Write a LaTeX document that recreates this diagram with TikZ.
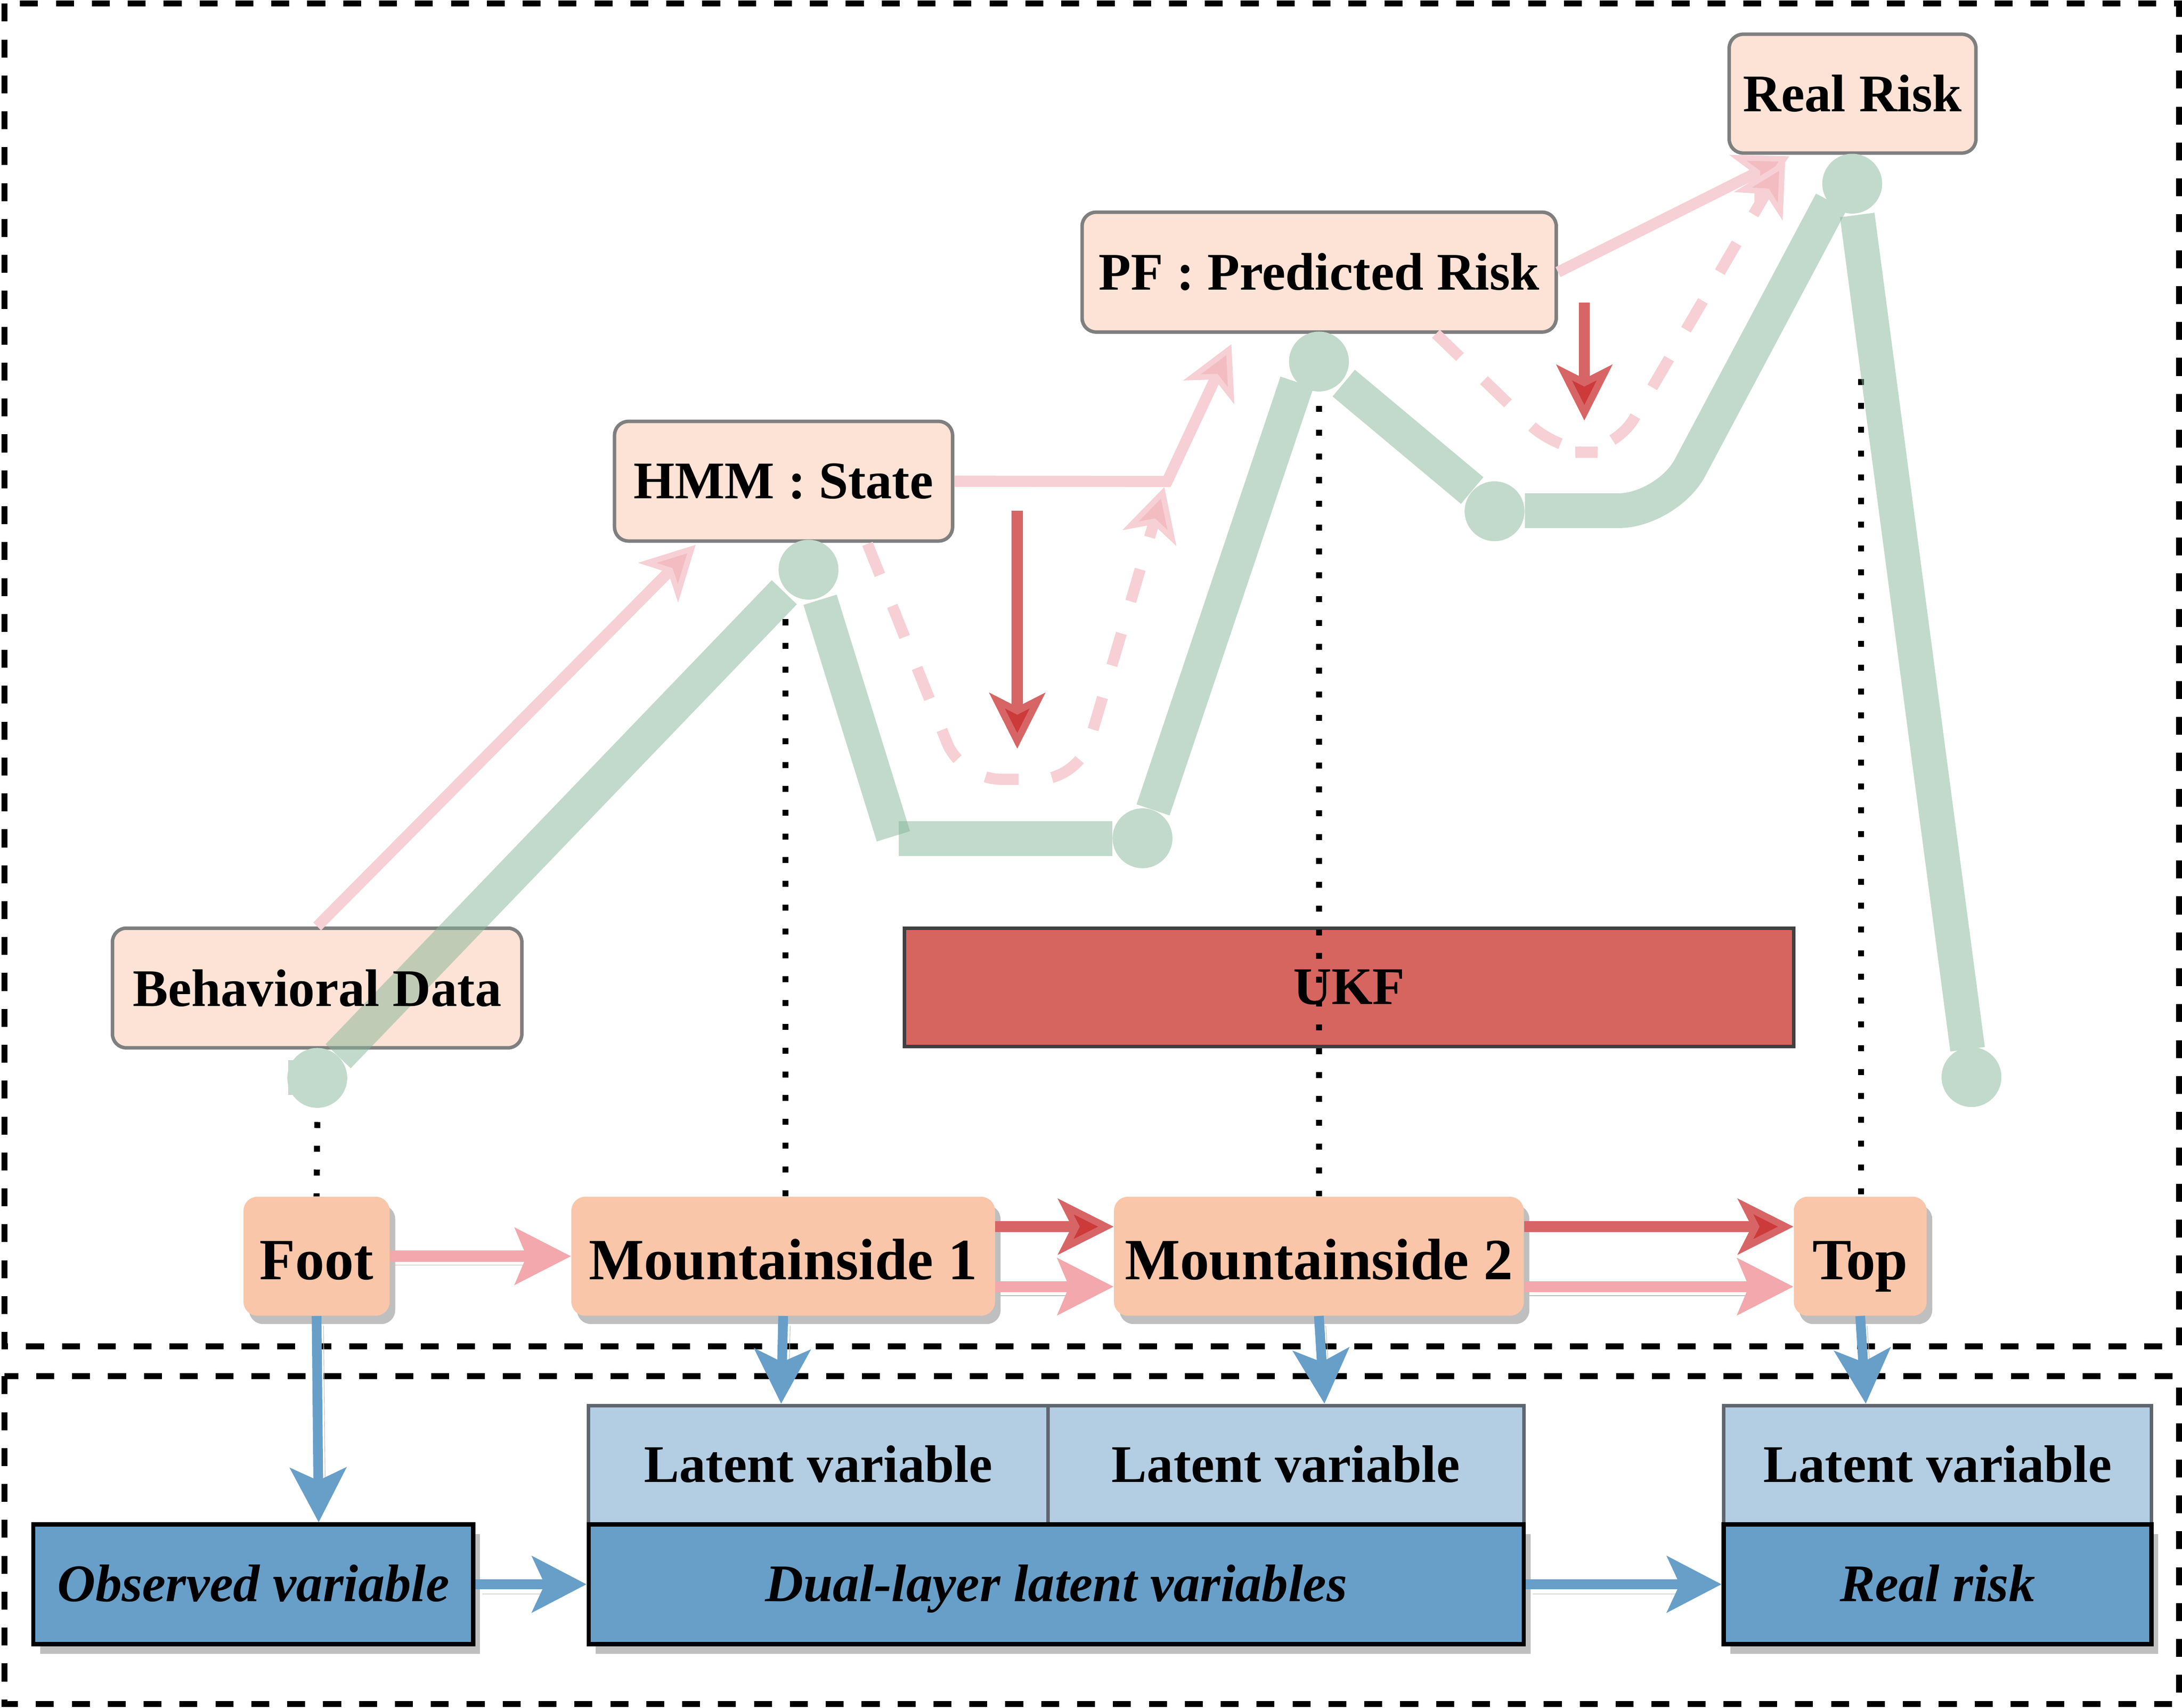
\documentclass[tikz,border=0pt]{standalone}
\usepackage{fontspec}
\setmainfont{Liberation Serif}
\usetikzlibrary{arrows.meta,shadows,calc}
\definecolor{peachlt}{HTML}{FCE3D5}
\definecolor{peach}{HTML}{F9C6A9}
\definecolor{boxgray}{HTML}{7F7F7F}
\definecolor{ltblue}{HTML}{B3CDE2}
\definecolor{latborder}{HTML}{5F6670}
\definecolor{myblue}{HTML}{679FC9}
\definecolor{mtgreen}{HTML}{C2DACB}
\definecolor{mtbase}{HTML}{85B597}
\definecolor{pinklt}{HTML}{F6D0D4}
\definecolor{pinkhead}{HTML}{F2BCC1}
\definecolor{pinkmid}{HTML}{F2A8AD}
\definecolor{redarr}{HTML}{D76566}
\definecolor{reddark}{HTML}{CC3A3A}
\definecolor{ukfred}{HTML}{D6645F}
\definecolor{ukfborder}{HTML}{404040}
\definecolor{shadowgray}{HTML}{BFBFBF}
\tikzset{
  lblfont/.style={font=\fontsize{38}{44}\selectfont\bfseries},
  toplbl/.style={draw=boxgray, line width=2.5pt, fill=peachlt, rounded corners=10pt, inner sep=0pt, lblfont},
  stepnode/.style={fill=peach, rounded corners=10pt, inner sep=0pt, font=\fontsize{42}{48}\selectfont\bfseries,
    text height=33.5pt, text depth=0pt,
    drop shadow={shadow xshift=4pt, shadow yshift=-6pt, fill=shadowgray, opacity=1}},
  latbox/.style={draw=latborder, line width=2.5pt, fill=ltblue, inner sep=0pt, lblfont, text height=24.5pt, text depth=0pt},
  varbox/.style={draw=black, line width=3pt, fill=myblue, inner sep=0pt, font=\fontsize{38}{44}\selectfont\bfseries\itshape,
    text height=24.5pt, text depth=0pt,
    drop shadow={shadow xshift=5pt, shadow yshift=-7pt, fill=shadowgray, opacity=1}},
  ukfbox/.style={draw=ukfborder, line width=2.5pt, fill=ukfred, inner sep=0pt, lblfont},
  outerbox/.style={draw=black, line width=4.3pt, dash pattern=on 12.9pt off 12.9pt},
  dotline/.style={draw=black, line width=4.3pt, dash pattern=on 4.3pt off 12.8pt},
  band/.style={draw=mtbase, draw opacity=0.5, line width=25pt, line cap=butt},
  mtdot/.style={circle, fill=mtgreen, minimum size=43pt, inner sep=0pt},
  pinkarr/.style={draw=pinklt, line width=8pt, -{Stealth[length=38pt,width=40pt,inset=10pt,line width=4pt,fill=pinkhead]}},
  pinkdash/.style={pinkarr, dash pattern=on 24pt off 24pt, rounded corners=28pt},
  redarrow/.style={draw=redarr, line width=8pt, -{Stealth[length=40pt,width=40pt,inset=10pt,line width=5pt,fill=reddark]}},
  pinkbot/.style={draw=pinkmid, line width=8pt, -{Stealth[length=40pt,width=40pt,inset=8pt]},
    preaction={draw=shadowgray, -, shorten >=34pt, transform canvas={shift={(0pt,-6.5pt)}}}},
  bluearr/.style={draw=myblue, line width=7pt, -{Stealth[length=39pt,width=40pt,inset=9pt]},
    preaction={draw=shadowgray, -, shorten >=36pt, transform canvas={shift={(5pt,-7pt)}}}}
}
\begin{document}
\begin{tikzpicture}[x=1pt,y=-1pt]
\useasboundingbox (0,0) rectangle (1568,1227.4);
% outer dashed frames
\draw[outerbox] (3.3,2.6) rectangle (1565.8,967.6);
\draw[outerbox] (3.3,989) rectangle (1565.8,1224.5);

% top labels
\node[toplbl, minimum width=177.3pt, minimum height=85.4pt] (realrisk) at (1331.25,67.3) {Real Risk};
\node[toplbl, minimum width=340.7pt, minimum height=86.1pt] (pf) at (947.95,195.55) {PF : Predicted Risk};
\node[toplbl, minimum width=242.9pt, minimum height=86pt] (hmm) at (563.05,345.8) {HMM : State};
\node[toplbl, minimum width=294.2pt, minimum height=86pt] (bd) at (227.9,710) {};
\node[ukfbox, minimum width=639pt, minimum height=85pt] (ukf) at (969.5,709.5) {UKF};

% bottom row steps
\node[stepnode, minimum width=105pt, minimum height=85.5pt] (foot) at (227.5,902.75) {Foot};
\node[stepnode, minimum width=304.4pt, minimum height=85.5pt] (m1) at (562.8,902.75) {Mountainside 1};
\node[stepnode, minimum width=294.5pt, minimum height=85.5pt] (m2) at (947.75,902.75) {Mountainside 2};
\node[stepnode, minimum width=95.5pt, minimum height=85.5pt] (top) at (1336.75,902.75) {Top};

% variable boxes
\node[latbox, minimum width=330pt, minimum height=85.5pt] (lat1) at (588,1052.75) {Latent variable};
\node[latbox, minimum width=342pt, minimum height=85.5pt] (lat2) at (924,1052.75) {Latent variable};
\node[latbox, minimum width=307.4pt, minimum height=85.5pt] (lat3) at (1392.3,1052.75) {Latent variable};
\node[varbox, minimum width=316pt, minimum height=86pt] (obs) at (182,1138.5) {Observed variable};
\node[varbox, minimum width=672pt, minimum height=86pt] (dual) at (759,1138.5) {Dual-layer latent variables};
\node[varbox, minimum width=307.4pt, minimum height=86pt] (real) at (1392.3,1138.5) {Real risk};

% dotted guides
\coordinate (d2) at (564.5,445);
\coordinate (d3) at (948,291.6);
\coordinate (d4) at (1337.2,272.4);
\draw[dotline] (d2) -- (d2 |- m1.north);
\draw[dotline] (d3) -- (d3 |- m2.north);
\draw[dotline] (d4) -- (d4 |- top.north);

% pink arrows (top)
\coordinate (bend1) at (838.7,346);
\draw[pinkarr] (bd.north) -- ($(hmm.south west)+(59.5,1.5)$);
\draw[pinkarr] (hmm.east) -- (bend1) -- ($(pf.south west)+(108.5,7.5)$);
\draw[pinkdash] ($(hmm.south west)+(183,0.8)$) -- (691,560) -- (775,560) -- ($(bend1)+(-2,4)$);
\draw[pinkarr] (pf.east) -- ($(realrisk.south west)+(44.5,1)$);
\draw[pinkdash] ($(pf.south west)+(255.5,0)$) -- (1120,325) -- (1160,325) -- ($(realrisk.south west)+(41.5,4)$);

% red arrows (top)
\coordinate (r1s) at (731,367);
\coordinate (r1e) at (731,538);
\coordinate (r2s) at (1138.5,217.4);
\coordinate (r2e) at (1138.5,302.2);
\draw[redarrow] (r1s) -- (r1e);
\draw[redarrow] (r2s) -- (r2e);

% green mountain path
\draw[band] (243,759) -- (563.6,425.6);
\draw[band] (589.3,431) -- (642,601);
\draw[band] (645.7,602.5) -- (799.5,602.5);
\draw[band] (828.6,582) -- (932,274.6);
\draw[band] (965.6,275.3) -- (1057.9,352.5);
\draw[band, rounded corners=35pt] (1095.8,367) -- (1198,367) -- (1316,145);
\draw[band] (1334.6,154.5) -- (1413.9,754);
\fill[mtgreen] (207,762) rectangle (228,787);
\node[mtdot] (c1) at (228,774.6) {};
\node[mtdot] (c2) at (581,409.4) {};
\node[mtdot] (c3) at (821,602.4) {};
\node[mtdot] (c4) at (947.8,259.8) {};
\node[mtdot] (c5) at (1074,367.4) {};
\node[mtdot] (c6) at (1331,132) {};
\node[mtdot] (c7) at (1416.7,774) {};
\node[lblfont, inner sep=0pt] (bdtext) at (bd) {Behavioral Data};
\draw[dotline] (c1.south) ++(0,10) -- (foot.north);

% bottom row arrows
\draw[pinkbot] (foot.east) -- (m1.west);
\draw[redarrow] ($(m1.east)+(0,-21.25)$) -- ($(m2.west)+(0,-21.25)$);
\draw[pinkbot] ($(m1.east)+(0,21.85)$) -- ($(m2.west)+(0,21.85)$);
\draw[redarrow] ($(m2.east)+(0,-21.25)$) -- ($(top.west)+(0,-21.25)$);
\draw[pinkbot] ($(m2.east)+(0,21.85)$) -- ($(top.west)+(0,21.85)$);

% blue arrows
\draw[bluearr] (foot.south) -- ($(foot.south |- obs.north)+(1.5,0)$);
\draw[bluearr] (m1.south) -- ($(m1.south |- lat1.north)+(-1.5,0)$);
\draw[bluearr] (m2.south) -- ($(m2.south |- lat2.north)+(4,0)$);
\draw[bluearr] (top.south) -- ($(top.south |- lat3.north)+(4,0)$);
\draw[bluearr] (obs.east) -- (dual.west);
\draw[bluearr] (dual.east) -- (real.west);
\end{tikzpicture}
\end{document}
